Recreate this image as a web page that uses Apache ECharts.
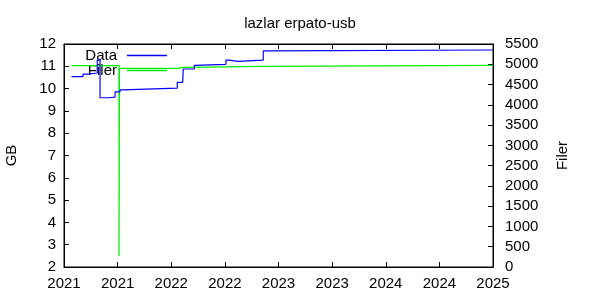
<!DOCTYPE html>
<html>
<head>
<meta charset="utf-8">
<script src="https://cdn.jsdelivr.net/npm/echarts@6/dist/echarts.min.js"></script>
<style>
html,body{margin:0;padding:0;background:#fff;}
#chart{width:600px;height:300px;}
</style>
</head>
<body>
<div id="chart"></div>
<script>
// Data series (decimal years)
var dataYears = [2021.070, 2021.177, 2021.227, 2021.310, 2021.336, 2021.420, 2021.476, 2021.522, 2021.550, 2022.056, 2022.107, 2022.112, 2022.215, 2022.228, 2022.510, 2022.538, 2022.622, 2022.858, 2022.937, 2025.0];
var dataGB = [10.54, 10.65, 10.70, 11.28, 9.59, 9.62, 9.85, 9.94, 10.02, 10.28, 10.33, 10.88, 11.04, 11.09, 11.28, 11.22, 11.28, 11.69, 11.73, 11.73];
var filerYears = [2021.070, 2021.513, 2021.517, 2022.056, 2022.112, 2022.858, 2025.0];
var filerCount = [4965, 271, 4900, 4925, 4950, 4975, 4975];

var titleText = 'lazlar erpato-usb';
var leftName = 'GB';
var rightName = 'Filer';

var FONT = 'Liberation Sans';
var FS = 15;

function pairs(xs, ys) {
  return xs.map(function (x, i) { return [x, ys[i]]; });
}

var chart = echarts.init(document.getElementById('chart'), null, {renderer: 'canvas'});
var lineIcon = 'path://M0,0H40V1.5H0Z';
chart.setOption({
  animation: false,
  backgroundColor: '#fff',
  textStyle: {fontFamily: FONT},
  title: {
    text: titleText,
    left: 'center',
    top: 11,
    textStyle: {fontFamily: FONT, fontSize: FS, fontWeight: 'normal', color: '#000'}
  },
  legend: [
    {
      data: ['Data'], right: 433, top: 48, padding: 0, z: 1,
      align: 'right', icon: lineIcon, itemWidth: 40, itemHeight: 1.5,
      selectedMode: false,
      textStyle: {fontFamily: FONT, fontSize: FS, color: '#000', padding: [0, 5, 0, 0]}
    },
    {
      data: ['Filer'], right: 433, top: 63, padding: 0, z: 1,
      align: 'right', icon: lineIcon, itemWidth: 40, itemHeight: 1.5,
      selectedMode: false,
      textStyle: {fontFamily: FONT, fontSize: FS, color: '#000', padding: [0, 5, 0, 0]}
    }
  ],
  grid: {
    left: 64, right: 107, top: 44, bottom: 33,
    outerBoundsMode: 'none', containLabel: false,
    show: true, borderColor: '#000', borderWidth: 1, backgroundColor: 'transparent'
  },
  xAxis: [
    {
      type: 'value', min: 2021, max: 2025, interval: 0.5,
      axisLine: {show: true, onZero: false, lineStyle: {color: '#000', width: 1}},
      axisTick: {show: true, inside: true, length: 5, lineStyle: {color: '#000'}},
      axisLabel: {
        show: true, margin: 9, color: '#000', fontFamily: FONT, fontSize: FS,
        formatter: function (v) { return String(Math.floor(v + 1e-9)); }
      },
      splitLine: {show: false}
    },
    {
      type: 'value', position: 'top', min: 2021, max: 2025, interval: 0.5,
      axisLine: {show: true, onZero: false, lineStyle: {color: '#000', width: 1}},
      axisTick: {show: true, inside: true, length: 5, lineStyle: {color: '#000'}},
      axisLabel: {show: false},
      splitLine: {show: false}
    }
  ],
  yAxis: [
    {
      type: 'value', min: 2, max: 12, interval: 1, position: 'left',
      name: leftName, nameLocation: 'middle', nameRotate: 90, nameGap: 45,
      nameTextStyle: {fontFamily: FONT, fontSize: FS, color: '#000'},
      axisLine: {show: true, onZero: false, lineStyle: {color: '#000', width: 1}},
      axisTick: {show: true, inside: true, length: 5, lineStyle: {color: '#000'}},
      axisLabel: {margin: 8, color: '#000', fontFamily: FONT, fontSize: FS,
        formatter: function (v) { return String(v); }},
      splitLine: {show: false}
    },
    {
      type: 'value', min: 0, max: 5500, interval: 500, position: 'right',
      name: rightName, nameLocation: 'middle', nameRotate: 90, nameGap: 62,
      nameTextStyle: {fontFamily: FONT, fontSize: FS, color: '#000'},
      axisLine: {show: true, onZero: false, lineStyle: {color: '#000', width: 1}},
      axisTick: {show: true, inside: true, length: 5, lineStyle: {color: '#000'}},
      axisLabel: {margin: 12, color: '#000', fontFamily: FONT, fontSize: FS,
        formatter: function (v) { return String(v); }},
      splitLine: {show: false}
    }
  ],
  series: [
    {
      name: 'Data', type: 'line', step: 'end', xAxisIndex: 0, yAxisIndex: 0,
      data: pairs(dataYears, dataGB), showSymbol: false, z: 3,
      lineStyle: {color: '#0000ff', width: 1.2},
      itemStyle: {color: '#0000ff'}
    },
    {
      name: 'Filer', type: 'line', step: 'end', xAxisIndex: 0, yAxisIndex: 1,
      data: pairs(filerYears, filerCount), showSymbol: false, z: 2,
      lineStyle: {color: '#00ee00', width: 1.2},
      itemStyle: {color: '#00ee00'}
    }
  ]
});
</script>
</body>
</html>
